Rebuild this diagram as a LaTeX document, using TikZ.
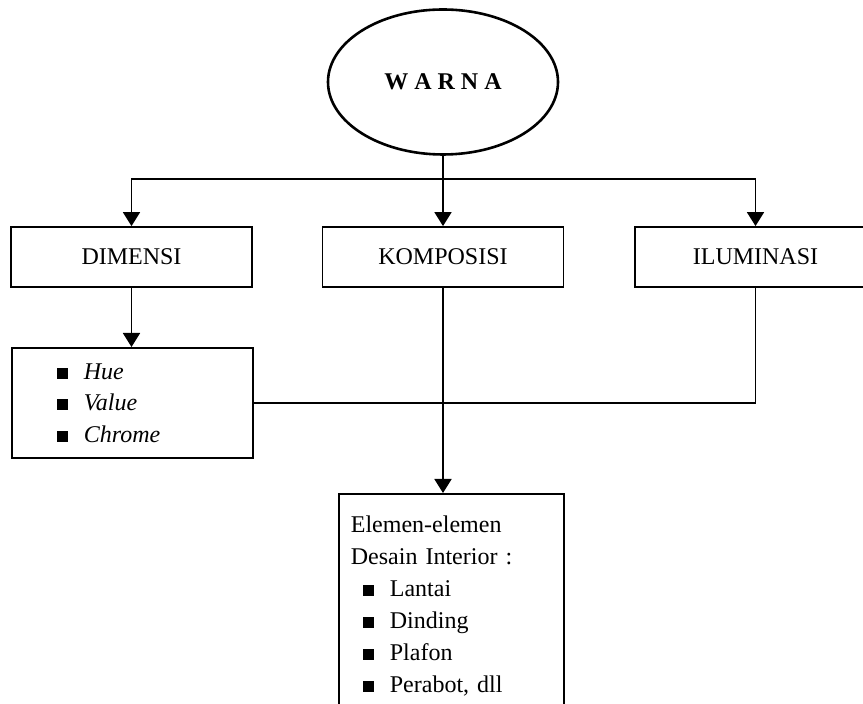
\documentclass[tikz,border=0pt]{standalone}
\usepackage{fontspec}
\setmainfont{Liberation Serif}
\usetikzlibrary{arrows.meta, positioning, shapes.geometric}
\newcommand{\butir}{\rule[0.3pt]{5.5pt}{5.5pt}\hspace{8pt}}
\tikzset{
    % gaya kotak
    kotak/.style={
           rectangle,
           draw=black, line width=0.9pt,
           minimum width=120.5pt,
           minimum height=30pt,
           inner sep=0pt,
           font=\fontsize{12}{14}\selectfont,
           align=center},
    % gaya panah
    panah/.style={
           -{Triangle[length=7pt,width=8.5pt]},
           line width=0.9pt},
    garis/.style={line width=0.9pt}
}
\begin{document}
\begin{tikzpicture}[x=0.5pt, y=-0.5pt]
	\useasboundingbox (0,0) rectangle (863,704);
	%
	% simpul
	%
	\node[ellipse, draw=black, line width=1.3pt, minimum width=115pt, minimum height=72.5pt, inner sep=0pt,
	      font=\fontsize{12}{14}\selectfont\bfseries] (warna) at (443,82) {W A R N A};
	\node[kotak] (dimensi) at (131.5,257) {DIMENSI};
	\node[kotak] (komposisi) at (443,257) {KOMPOSISI};
	\node[kotak] (iluminasi) at (755.5,257) {ILUMINASI};
	\node[kotak, anchor=north west, minimum height=55pt, inner xsep=22.5pt, text width=75.5pt, align=left,
	      font=\fontsize{12}{15.75}\selectfont] (unsur) at (11,347)
	      {\butir\textit{Hue}\\ \butir\textit{Value}\\ \butir\textit{Chrome}};
	\node[kotak, anchor=north west, minimum width=112.5pt, inner xsep=6pt, inner ysep=10.8pt, text width=100.5pt, align=left,
	      font=\fontsize{12}{16}\selectfont] (elemen) at (338,493)
	      {Elemen-elemen\\ Desain Interior :\\ \hspace*{6pt}\butir Lantai\\ \hspace*{6pt}\butir Dinding\\
	       \hspace*{6pt}\butir Plafon\\ \hspace*{6pt}\butir Perabot, dll};
	\coordinate (cabang) at (443,179);
	%
	% hubungan
	%
	\draw[panah] (warna.south) -- (komposisi.north);
	\draw[panah] (cabang) -| (dimensi.north);
	\draw[panah] (cabang) -| (iluminasi.north);
	\draw[panah] (dimensi.south) -- (dimensi.south |- unsur.north);
	\draw[panah] (komposisi.south) -- (komposisi.south |- elemen.north);
	\draw[garis] (iluminasi.south) |- (unsur.east);
\end{tikzpicture}
\end{document}
